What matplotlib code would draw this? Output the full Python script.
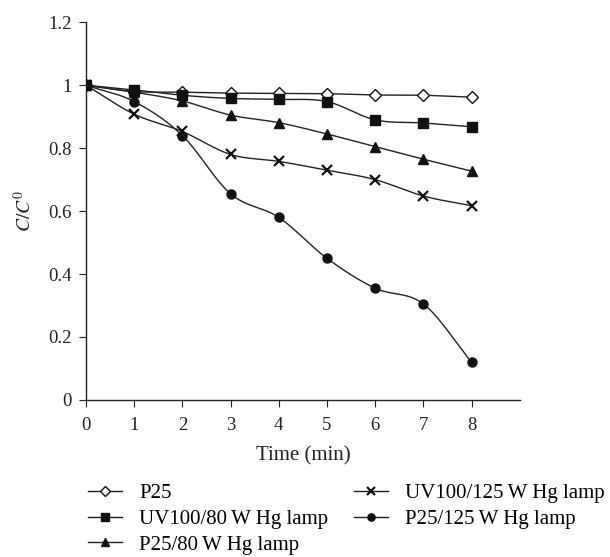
import numpy as np
import matplotlib
matplotlib.use("Agg")
import matplotlib.pyplot as plt
import matplotlib.ticker as mticker

# --- data ---
TIME = [0, 1, 2, 3, 4, 5, 6, 7, 8]
P25 = [1.0, 0.98, 0.978, 0.975, 0.974, 0.973, 0.969, 0.968, 0.962]
UV100_80 = [1.0, 0.985, 0.968, 0.958, 0.955, 0.948, 0.890, 0.880, 0.868]
P25_80 = [1.0, 0.978, 0.950, 0.905, 0.881, 0.845, 0.805, 0.765, 0.727]
UV100_125 = [1.0, 0.908, 0.853, 0.780, 0.758, 0.730, 0.700, 0.648, 0.617]
P25_125 = [1.0, 0.948, 0.840, 0.655, 0.580, 0.450, 0.355, 0.305, 0.120]

SERIES = [
    ("P25", P25, dict(marker="D", markerfacecolor="white", markersize=6.5)),
    ("UV100/80\u2009W Hg lamp", UV100_80, dict(marker="s", markerfacecolor="#111111", markersize=6.5)),
    ("P25/80\u2009W Hg lamp", P25_80, dict(marker="^", markerfacecolor="#111111", markersize=7.5)),
    ("UV100/125\u2009W Hg lamp", UV100_125, dict(marker="x", markersize=6.5, markeredgewidth=1.6)),
    ("P25/125\u2009W Hg lamp", P25_125, dict(marker="o", markerfacecolor="#111111", markersize=6.5)),
]

plt.rcParams["font.family"] = ["Liberation Serif", "DejaVu Serif"]
plt.rcParams["mathtext.fontset"] = "stix"


def smooth_curve(x, y, n=20):
    """Excel-style smoothed line through the points (Catmull-Rom)."""
    x = np.asarray(x, float)
    y = np.asarray(y, float)
    px = np.concatenate([[2 * x[0] - x[1]], x, [2 * x[-1] - x[-2]]])
    py = np.concatenate([[2 * y[0] - y[1]], y, [2 * y[-1] - y[-2]]])
    xs, ys = [], []
    t = np.linspace(0, 1, n)
    for i in range(1, len(px) - 2):
        for p, out in ((px, xs), (py, ys)):
            p0, p1, p2, p3 = p[i - 1], p[i], p[i + 1], p[i + 2]
            out.extend(0.5 * ((2 * p1) + (-p0 + p2) * t
                              + (2 * p0 - 5 * p1 + 4 * p2 - p3) * t ** 2
                              + (-p0 + 3 * p1 - 3 * p2 + p3) * t ** 3))
    return np.array(xs), np.array(ys)


fig = plt.figure(figsize=(6.1, 5.57), dpi=100, facecolor="white")
ax = fig.add_axes([0.141, 0.282, 0.711, 0.678])

for label, vals, style in SERIES:
    sx, sy = smooth_curve(TIME, vals)
    ax.plot(sx, sy, color="#222222", linewidth=1.0, zorder=2)
    ax.plot(TIME, vals, linestyle="none", color="#111111",
            markeredgecolor="#111111", zorder=3, **style)
    ax.plot([], [], color="#222222", linewidth=1.0,
            markeredgecolor="#111111", label=label,
            **{**style, "markersize": style["markersize"] * 0.8})

ax.set_xlim(0, 9)
ax.set_ylim(0, 1.2)
ax.set_xticks(TIME)
ax.yaxis.set_major_locator(mticker.MultipleLocator(0.2))
ax.yaxis.set_major_formatter(mticker.FuncFormatter(lambda v, p: f"{v:g}"))
ax.spines["top"].set_visible(False)
ax.spines["right"].set_visible(False)
for s in ("left", "bottom"):
    ax.spines[s].set_linewidth(1.0)
    ax.spines[s].set_color("#222222")
ax.tick_params(axis="both", direction="out", length=5, labelsize=13.5, colors="#222222")
ax.tick_params(axis="y", pad=5)
ax.tick_params(axis="x", pad=7)

ax.set_xlabel("Time (min)", fontsize=15, color="#222222", labelpad=9)
ax.set_ylabel(r"$C/C^0$", fontsize=14, color="#222222", labelpad=10)

fig.legend(loc="upper left", bbox_to_anchor=(0.131, 0.147), ncol=2, frameon=False,
           fontsize=15, handlelength=1.63, handletextpad=0.82, columnspacing=1.25,
           labelspacing=0.3, borderaxespad=0)

fig.savefig("out.png", dpi=100, facecolor="white")
